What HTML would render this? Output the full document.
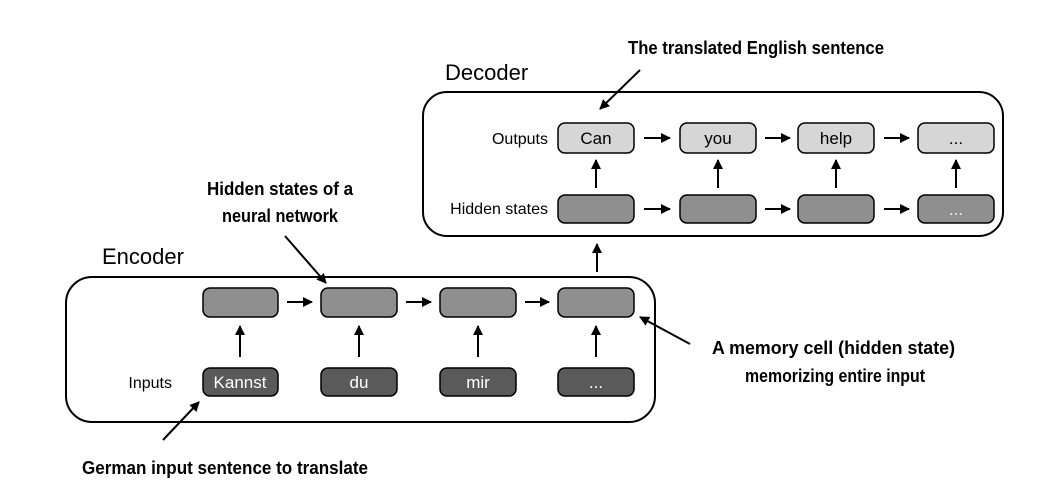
<!DOCTYPE html>
<html><head><meta charset="utf-8"><style>
html,body{margin:0;padding:0;background:#fff;}
svg{display:block;}
text{font-family:"Liberation Sans",Arial,sans-serif;}
.b{font-weight:bold;font-size:18px;}
</style></head><body>
<svg width="1042" height="498" viewBox="0 0 1042 498">
<defs>
<marker id="a" viewBox="0 0 10 10" refX="9" refY="5" markerWidth="5" markerHeight="5" orient="auto-start-reverse"><path d="M0,0L10,5L0,10z" fill="#000"/></marker>
</defs>
<g fill="none" stroke="#000" stroke-width="2">
<rect x="423" y="92" width="580" height="144" rx="24"/>
<rect x="66" y="277" width="589" height="145" rx="26"/>
</g>
<text x="445" y="80" font-size="22">Decoder</text>
<text x="102" y="264" font-size="22">Encoder</text>
<g font-size="16" text-anchor="end">
<text x="548" y="144">Outputs</text>
<text x="548" y="214">Hidden states</text>
<text x="172" y="388">Inputs</text>
</g>
<g stroke="#000" stroke-width="1.5">
<rect x="558" y="123" width="76" height="30" rx="7" fill="#d6d6d6"/>
<rect x="680" y="123" width="76" height="30" rx="7" fill="#d6d6d6"/>
<rect x="798" y="123" width="76" height="30" rx="7" fill="#d6d6d6"/>
<rect x="918" y="123" width="76" height="30" rx="7" fill="#d6d6d6"/>
<rect x="558" y="195" width="76" height="28" rx="7" fill="#8f8f8f"/>
<rect x="680" y="195" width="76" height="28" rx="7" fill="#8f8f8f"/>
<rect x="798" y="195" width="76" height="28" rx="7" fill="#8f8f8f"/>
<rect x="918" y="195" width="76" height="28" rx="7" fill="#8f8f8f"/>
<rect x="203" y="288" width="75" height="29" rx="7" fill="#8f8f8f"/>
<rect x="321" y="288" width="76" height="29" rx="7" fill="#8f8f8f"/>
<rect x="440" y="288" width="76" height="29" rx="7" fill="#8f8f8f"/>
<rect x="558" y="288" width="76" height="29" rx="7" fill="#8f8f8f"/>
<rect x="203" y="368" width="75" height="28" rx="7" fill="#5a5a5a"/>
<rect x="321" y="368" width="76" height="28" rx="7" fill="#5a5a5a"/>
<rect x="440" y="368" width="76" height="28" rx="7" fill="#5a5a5a"/>
<rect x="558" y="368" width="76" height="28" rx="7" fill="#5a5a5a"/>
</g>
<g font-size="17" text-anchor="middle">
<text x="596" y="144">Can</text><text x="718" y="144">you</text><text x="836" y="144">help</text><text x="956" y="144">...</text>
<text x="956" y="215" fill="#eee">...</text>
<g fill="#fff"><text x="240" y="388">Kannst</text><text x="359" y="388">du</text><text x="478" y="388">mir</text><text x="596" y="388">...</text></g>
</g>
<g stroke="#000" stroke-width="2" marker-end="url(#a)">
<line x1="644" y1="138" x2="670" y2="138"/><line x1="765" y1="138" x2="790" y2="138"/><line x1="884" y1="138" x2="909" y2="138"/>
<line x1="644" y1="209" x2="670" y2="209"/><line x1="765" y1="209" x2="790" y2="209"/><line x1="884" y1="209" x2="909" y2="209"/>
<line x1="596" y1="188" x2="596" y2="160"/><line x1="718" y1="188" x2="718" y2="160"/><line x1="836" y1="188" x2="836" y2="160"/><line x1="956" y1="188" x2="956" y2="160"/>
<line x1="287" y1="302" x2="312" y2="302"/><line x1="406" y1="302" x2="431" y2="302"/><line x1="525" y1="302" x2="549" y2="302"/>
<line x1="240" y1="357" x2="240" y2="326"/><line x1="359" y1="357" x2="359" y2="326"/><line x1="478" y1="357" x2="478" y2="326"/><line x1="596" y1="357" x2="596" y2="326"/>
<line x1="597" y1="272" x2="597" y2="244"/>
<line x1="640" y1="70" x2="600" y2="109"/>
<line x1="285" y1="236" x2="326" y2="283"/>
<line x1="690" y1="344" x2="640" y2="317"/>
<line x1="163" y1="440" x2="199" y2="402"/>
</g>
<g class="b">
<text x="628" y="54" textLength="256" lengthAdjust="spacingAndGlyphs">The translated English sentence</text>
<text x="207" y="195" textLength="146" lengthAdjust="spacingAndGlyphs">Hidden states of a</text>
<text x="222" y="222" textLength="116" lengthAdjust="spacingAndGlyphs">neural network</text>
<text x="712" y="354" textLength="243" lengthAdjust="spacingAndGlyphs">A memory cell (hidden state)</text>
<text x="745" y="382" textLength="180" lengthAdjust="spacingAndGlyphs">memorizing entire input</text>
<text x="82" y="474" textLength="286" lengthAdjust="spacingAndGlyphs">German input sentence to translate</text>
</g>
</svg>
</body></html>
